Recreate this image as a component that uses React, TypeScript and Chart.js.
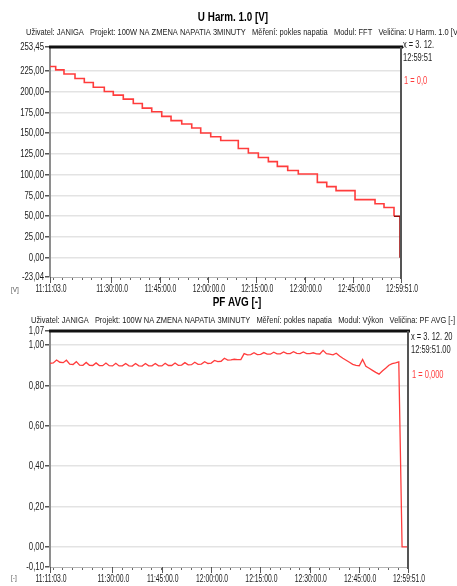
import React, { useEffect, useRef } from "react";
import { Chart, registerables } from "chart.js";

Chart.register(...registerables);

const FONT = "'Liberation Sans', Arial, sans-serif";

// Shared time axis (one measurement, 11:11:03 – 12:59:51)
const TIME_START = "11:11:03";
const TIME_END = "12:59:51";
const TIME_MAJOR = ["11:30:00", "11:45:00", "12:00:00", "12:15:00", "12:30:00", "12:45:00"];
const TIME_MINOR_STEP_MIN = 3;

// U Harm. 1.0 [V] – step changes of the supply voltage
const UH_TIMES = [
  "11:11:03", "11:12:49", "11:15:23", "11:18:48", "11:21:41", "11:24:28", "11:27:53",
  "11:30:40", "11:33:46", "11:36:52", "11:39:40", "11:42:35", "11:45:41", "11:48:34",
  "11:51:53", "11:54:59", "11:57:46", "12:00:52", "12:03:58", "12:09:25", "12:12:32",
  "12:15:38", "12:18:44", "12:21:31", "12:24:44", "12:28:01", "12:33:55", "12:36:50",
  "12:39:43", "12:45:36", "12:51:48", "12:54:35", "12:57:41", "12:59:33", "12:59:51",
];
const UH_VALUES = [
  230.0, 226.0, 221.0, 215.6, 210.7, 205.0, 200.0,
  195.6, 190.8, 185.5, 180.0, 175.6, 170.0, 165.0,
  160.8, 156.0, 150.0, 145.6, 141.0, 131.5, 126.0,
  120.7, 115.6, 110.0, 105.0, 100.8, 90.7, 85.6,
  80.8, 70.0, 65.0, 60.5, 50.0, 0.0, 0.0,
];
const UH_MIN = -23.04;
const UH_MAX = 253.45;
const UH_TICKS = [0, 25, 50, 75, 100, 125, 150, 175, 200, 225];

// PF AVG [-] – one reading per minute from TIME_START
const PF_INTERVAL_S = 60;
const PF_VALUES = [
  0.909, 0.912, 0.926, 0.915, 0.913, 0.925, 0.906, 0.904, 0.918, 0.901,
  0.900, 0.914, 0.900, 0.899, 0.912, 0.899, 0.898, 0.911, 0.898, 0.897,
  0.910, 0.897, 0.897, 0.909, 0.897, 0.896, 0.909, 0.897, 0.896, 0.909,
  0.897, 0.897, 0.909, 0.897, 0.897, 0.910, 0.899, 0.899, 0.911, 0.900,
  0.901, 0.913, 0.902, 0.903, 0.915, 0.905, 0.906, 0.918, 0.909, 0.911,
  0.924, 0.918, 0.920, 0.935, 0.926, 0.927, 0.930, 0.928, 0.928, 0.958,
  0.952, 0.953, 0.962, 0.953, 0.954, 0.963, 0.955, 0.955, 0.965, 0.957,
  0.957, 0.966, 0.958, 0.958, 0.967, 0.959, 0.958, 0.966, 0.958, 0.958,
  0.962, 0.957, 0.956, 0.974, 0.958, 0.955, 0.952, 0.960, 0.946, 0.935,
  0.925, 0.915, 0.905, 0.900, 0.898, 0.929, 0.895, 0.885, 0.875, 0.865,
  0.856, 0.872, 0.885, 0.900, 0.908, 0.912, 0.917, 0.000, 0.000,
];
const PF_END_VALUE = 0.0;
const PF_MIN = -0.1;
const PF_MAX = 1.07;
const PF_TICKS = [0, 0.2, 0.4, 0.6, 0.8, 1.0];

const toSec = (s: string) => {
  const [h, m, x] = s.split(":").map(Number);
  return h * 3600 + m * 60 + x;
};
const pad2 = (n: number) => String(n).padStart(2, "0");
const fmtTime = (v: number) => {
  const h = Math.floor(v / 3600);
  const m = Math.floor((v % 3600) / 60);
  const s = Math.round(v % 60);
  return `${h}:${pad2(m)}:${pad2(s)}.0`;
};
const fmtNum = (v: number) => v.toFixed(2).replace(".", ",");

const T0 = toSec(TIME_START);
const T1 = toSec(TIME_END);
const MAJOR_SECS = [T0, ...TIME_MAJOR.map(toSec), T1];

function timeTickValues(): number[] {
  const out: number[] = [T0];
  const step = TIME_MINOR_STEP_MIN * 60;
  let v = Math.ceil((T0 + 1) / step) * step;
  while (v < T1 - 30) {
    out.push(v);
    v += step;
  }
  out.push(T1);
  return out;
}

// narrow-looking text: regular face squeezed horizontally
function fillNarrow(
  ctx: CanvasRenderingContext2D,
  text: string,
  x: number,
  y: number,
  sx: number,
  align: CanvasTextAlign
) {
  ctx.save();
  ctx.translate(x, y);
  ctx.scale(sx, 1);
  ctx.textAlign = align;
  ctx.fillText(text, 0, 0);
  ctx.restore();
}

type Deco = {
  title: string;
  titleY: number;
  titleX: number;
  subtitle: string;
  subX: number;
  subY: number;
  subWidth: number;
  info: string[];
  infoX: number;
  infoY: number[];
  value: string;
  valueY: number;
  unit: string;
  unitY: number;
  yValues: number[];
};

const decoPlugin = {
  id: "deco",
  afterDraw(chart: any, _args: any, o: Deco) {
    const { ctx, chartArea: a } = chart;
    const xs = chart.scales.x;
    const ys = chart.scales.y;
    ctx.save();

    // longer marks under the labelled times
    ctx.strokeStyle = "#555";
    ctx.lineWidth = 1;
    MAJOR_SECS.forEach((t) => {
      const px = Math.round(xs.getPixelForValue(t)) + 0.5;
      ctx.beginPath();
      ctx.moveTo(px, a.bottom);
      ctx.lineTo(px, a.bottom + 6);
      ctx.stroke();
    });

    // frame: thick top edge, dark right edge
    ctx.strokeStyle = "#111";
    ctx.lineWidth = 3;
    ctx.beginPath();
    ctx.moveTo(a.left - 1, a.top);
    ctx.lineTo(a.right + 2, a.top);
    ctx.stroke();
    ctx.strokeStyle = "#555";
    ctx.lineWidth = 2;
    ctx.beginPath();
    ctx.moveTo(a.right, a.top);
    ctx.lineTo(a.right, a.bottom + 2);
    ctx.stroke();

    ctx.textBaseline = "middle";

    // axis labels
    ctx.fillStyle = "#1a1a1a";
    ctx.font = `10px ${FONT}`;
    o.yValues.forEach((v) => {
      fillNarrow(ctx, fmtNum(v), a.left - 6, ys.getPixelForValue(v) + 0.5, 0.78, "right");
    });
    MAJOR_SECS.forEach((t) => {
      fillNarrow(ctx, fmtTime(t), xs.getPixelForValue(t) + 1, a.bottom + 12, 0.68, "center");
    });

    // title and info line
    ctx.fillStyle = "#000";
    ctx.font = `bold 13px ${FONT}`;
    fillNarrow(ctx, o.title, o.titleX, o.titleY, 0.76, "center");

    ctx.font = `8.5px ${FONT}`;
    ctx.fillStyle = "#1a1a1a";
    const w = ctx.measureText(o.subtitle).width;
    fillNarrow(ctx, o.subtitle, o.subX, o.subY, o.subWidth / w, "left");

    ctx.font = `10px ${FONT}`;
    ctx.fillStyle = "#222";
    o.info.forEach((t, i) => fillNarrow(ctx, t, o.infoX, o.infoY[i], 0.75, "left"));
    ctx.fillStyle = "rgb(255,60,60)";
    fillNarrow(ctx, o.value, o.infoX + 1, o.valueY, 0.75, "left");

    ctx.fillStyle = "#555";
    ctx.font = `8px ${FONT}`;
    fillNarrow(ctx, o.unit, 11, o.unitY, 0.8, "left");
    ctx.restore();
  },
};

function buildConfig(p: {
  points: { x: number; y: number }[];
  stepped: boolean;
  min: number;
  max: number;
  yTicks: number[];
  padTop: number;
  padRight: number;
  lineWidth: number;
  deco: Omit<Deco, "yValues">;
}) {
  const tickVals = timeTickValues();
  const yValues = [p.min, ...p.yTicks, p.max];
  return {
    type: "line" as const,
    data: {
      datasets: [
        {
          data: p.points,
          borderColor: "rgb(255,60,60)",
          borderWidth: p.lineWidth,
          pointRadius: 0,
          stepped: p.stepped,
          tension: 0,
          segment: {
            borderColor: (c: any) =>
              p.stepped && c.p0.parsed.y > 0 && c.p1.parsed.y === 0 ? "#9a0a0a" : undefined,
          },
        },
      ],
    },
    options: {
      animation: false as const,
      responsive: false,
      events: [],
      layout: { padding: { top: p.padTop, right: p.padRight, left: 0, bottom: 0 } },
      plugins: {
        legend: { display: false },
        tooltip: { enabled: false },
        deco: { ...p.deco, yValues },
      },
      scales: {
        x: {
          type: "linear" as const,
          min: T0,
          max: T1,
          afterBuildTicks: (s: any) => {
            s.ticks = tickVals.map((v) => ({ value: v }));
          },
          afterFit: (s: any) => {
            s.height = 19;
          },
          ticks: { display: false, autoSkip: false, maxRotation: 0 },
          grid: {
            drawOnChartArea: false,
            drawTicks: true,
            tickLength: 3,
            tickColor: "#666",
          },
          border: { display: true, color: "#b5b5b5", width: 1 },
        },
        y: {
          type: "linear" as const,
          min: p.min,
          max: p.max,
          afterBuildTicks: (s: any) => {
            s.ticks = yValues.map((v) => ({ value: v }));
          },
          afterFit: (s: any) => {
            s.width = 50;
          },
          ticks: { display: false },
          grid: {
            color: (c: any) =>
              c.tick && (c.tick.value === p.min || c.tick.value === p.max)
                ? "rgba(0,0,0,0)"
                : "#e3e3e3",
            lineWidth: 1.5,
            tickLength: 5,
            tickColor: "#555",
          },
          border: { display: true, color: "#8e8e8e", width: 2 },
        },
      },
    },
    plugins: [decoPlugin],
  };
}

function ChartCanvas({ config, width, height, top }: any) {
  const ref = useRef<HTMLCanvasElement | null>(null);
  useEffect(() => {
    if (!ref.current) return;
    const chart = new Chart(ref.current, config as any);
    return () => chart.destroy();
  }, [config]);
  return (
    <canvas
      ref={ref}
      width={width}
      height={height}
      style={{ position: "absolute", left: 0, top, width, height }}
    />
  );
}

const uhPoints = UH_TIMES.map((t, i) => ({ x: toSec(t), y: UH_VALUES[i] }));
const pfPoints = [
  ...PF_VALUES.map((v, i) => ({ x: T0 + i * PF_INTERVAL_S, y: v })),
  { x: T1, y: PF_END_VALUE },
];

const uhConfig = buildConfig({
  points: uhPoints,
  stepped: true,
  min: UH_MIN,
  max: UH_MAX,
  yTicks: UH_TICKS,
  padTop: 47,
  padRight: 56,
  lineWidth: 1.6,
  deco: {
    title: "U Harm. 1.0 [V]",
    titleX: 233,
    titleY: 17,
    subtitle:
      "Uživatel: JANIGA   Projekt: 100W NA ZMENA NAPATIA 3MINUTY   Měření: pokles napatia   Modul: FFT   Veličina: U Harm. 1.0 [V]",
    subX: 26,
    subY: 33,
    subWidth: 434,
    info: ["x = 3. 12.", "12:59:51"],
    infoX: 403,
    infoY: [45, 58],
    value: "1 = 0,0",
    valueY: 81,
    unit: "[V]",
    unitY: 290,
  },
});

const pfConfig = buildConfig({
  points: pfPoints,
  stepped: false,
  min: PF_MIN,
  max: PF_MAX,
  yTicks: PF_TICKS,
  padTop: 35,
  padRight: 49,
  lineWidth: 1.3,
  deco: {
    title: "PF AVG [-]",
    titleX: 237,
    titleY: 6,
    subtitle:
      "Uživatel: JANIGA   Projekt: 100W NA ZMENA NAPATIA 3MINUTY   Měření: pokles napatia   Modul: Výkon   Veličina: PF AVG [-]",
    subX: 31,
    subY: 25,
    subWidth: 424,
    info: ["x = 3. 12. 20", "12:59:51.00"],
    infoX: 411,
    infoY: [41, 54],
    value: "1 = 0,000",
    valueY: 79,
    unit: "[-]",
    unitY: 282,
  },
});

export default function App() {
  return (
    <div
      style={{
        position: "absolute",
        left: 0,
        top: 0,
        width: 457,
        height: 586,
        background: "#fff",
        overflow: "hidden",
      }}
    >
      <ChartCanvas config={uhConfig} width={457} height={296} top={0} />
      <ChartCanvas config={pfConfig} width={457} height={290} top={296} />
    </div>
  );
}
